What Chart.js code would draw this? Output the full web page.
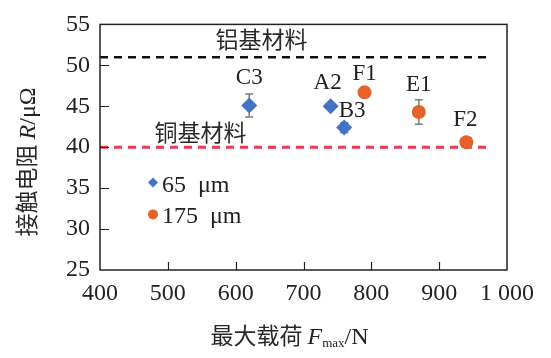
<!DOCTYPE html>
<html>
<head>
<meta charset="utf-8">
<script src="https://cdn.jsdelivr.net/npm/chart.js@4.4.1/dist/chart.umd.min.js"></script>
<style>
  html, body { margin: 0; padding: 0; background: #ffffff; }
  #c { display: block; }
</style>
</head>
<body>
<canvas id="c" width="551" height="358"></canvas>
<script>
// ---- data ----
const xTicks = [400, 500, 600, 700, 800, 900, 1000];
const yTicks = [25, 30, 35, 40, 45, 50, 55];

const names65 = ['C3', 'A2', 'B3'];
const force65 = [620, 740, 760];
const resist65 = [45.1, 45.0, 42.4];
const err65 = [1.4, 0, 0.6];

const names175 = ['F1', 'E1', 'F2'];
const force175 = [790, 870, 940];
const resist175 = [46.7, 44.3, 40.6];
const err175 = [0, 1.5, 0];

const alLevel = 51;   // 铝基材料
const cuLevel = 40;   // 铜基材料
const refLineX = [400, 975];

const legendNames = ['65  μm', '175  μm'];
const refNames = ['铝基材料', '铜基材料'];

// ---- styles ----
const BLUE = '#4472c4';
const ORANGE = '#e5622b';
const RED = '#e43a52';
const INK = '#222222';
const SERIF = '"Liberation Serif", "DejaVu Serif", serif';
const CJK = '"Noto Sans CJK SC", sans-serif';

const pts65 = force65.map((f, i) => ({ x: f, y: resist65[i] }));
const pts175 = force175.map((f, i) => ({ x: f, y: resist175[i] }));

// label offsets (pixels) relative to marker
const labelOffsets = {
  C3: [0, -27], A2: [-3, -23], B3: [8, -17],
  F1: [0, -18], E1: [0, -27], F2: [-1, -22]
};

const errorBars = {
  id: 'errorBars',
  beforeDatasetsDraw(chart) {
    const { ctx, scales: { x, y } } = chart;
    ctx.save();
    ctx.strokeStyle = '#7a7a7a';
    ctx.lineWidth = 1.5;
    const draw = (fs, rs, es) => fs.forEach((f, i) => {
      if (!es[i]) return;
      const px = x.getPixelForValue(f);
      const y1 = y.getPixelForValue(rs[i] + es[i]);
      const y2 = y.getPixelForValue(rs[i] - es[i]);
      ctx.beginPath();
      ctx.moveTo(px, y1); ctx.lineTo(px, y2);
      ctx.moveTo(px - 4, y1); ctx.lineTo(px + 4, y1);
      ctx.moveTo(px - 4, y2); ctx.lineTo(px + 4, y2);
      ctx.stroke();
    });
    draw(force65, resist65, err65);
    draw(force175, resist175, err175);
    ctx.restore();
  }
};

const decor = {
  id: 'decor',
  afterDraw(chart) {
    const { ctx, chartArea: a, scales: { x, y } } = chart;
    ctx.save();
    // frame
    ctx.strokeStyle = INK;
    ctx.lineWidth = 1.5;
    ctx.strokeRect(a.left, a.top, a.right - a.left, a.bottom - a.top);
    // inward ticks
    ctx.beginPath();
    xTicks.forEach(v => {
      if (v <= x.min || v >= x.max) return;
      const px = Math.round(x.getPixelForValue(v)) + 0.5;
      ctx.moveTo(px, a.bottom); ctx.lineTo(px, a.bottom - 8);
    });
    yTicks.forEach(v => {
      if (v <= y.min || v >= y.max) return;
      const py = Math.round(y.getPixelForValue(v)) + 0.5;
      ctx.moveTo(a.left, py); ctx.lineTo(a.left + 9, py);
    });
    ctx.lineWidth = 1.2;
    ctx.stroke();

    // point labels
    ctx.fillStyle = INK;
    ctx.font = '23px ' + SERIF;
    ctx.textAlign = 'center';
    ctx.textBaseline = 'middle';
    const lab = (names, fs, rs) => names.forEach((n, i) => {
      const o = labelOffsets[n];
      const px = x.getPixelForValue(fs[i]);
      const py = y.getPixelForValue(rs[i]);
      ctx.fillText(n, px + o[0], py + o[1]);
    });
    lab(names65, force65, resist65);
    lab(names175, force175, resist175);

    // reference labels
    ctx.fillStyle = '#2a2a2a';
    ctx.font = '23px ' + CJK;
    ctx.textBaseline = 'middle';
    ctx.fillText(refNames[0], x.getPixelForValue(638), y.getPixelForValue(alLevel) - 18);
    ctx.fillText(refNames[1], x.getPixelForValue(548), y.getPixelForValue(cuLevel) - 15);

    // legend (inside plot)
    const lx = a.left + 53;
    const ly1 = a.top + 158, ly2 = a.top + 190;
    ctx.fillStyle = BLUE;
    ctx.beginPath();
    ctx.moveTo(lx, ly1 - 5); ctx.lineTo(lx + 5, ly1); ctx.lineTo(lx, ly1 + 5); ctx.lineTo(lx - 5, ly1);
    ctx.closePath(); ctx.fill();
    ctx.fillStyle = ORANGE;
    ctx.beginPath(); ctx.arc(lx, ly2, 5, 0, Math.PI * 2); ctx.fill();
    ctx.fillStyle = INK;
    ctx.font = '24px ' + SERIF;
    ctx.textAlign = 'left';
    ctx.textBaseline = 'alphabetic';
    ctx.fillText(legendNames[0], lx + 9, ly1 + 10);
    ctx.fillText(legendNames[1], lx + 9, ly2 + 9);

    // x axis title: 最大载荷 F_max/N
    const parts = [
      { t: '最大载荷 ', f: '23px ' + CJK, dy: 0, c: '#2a2a2a' },
      { t: 'F', f: 'italic 24px ' + SERIF, dy: 0, c: INK },
      { t: 'max', f: '13px ' + SERIF, dy: 3, c: INK },
      { t: '/N', f: '24px ' + SERIF, dy: 0, c: INK }
    ];
    let tw = 0;
    parts.forEach(p => { ctx.font = p.f; p.w = ctx.measureText(p.t).width; tw += p.w; });
    let sx = (a.left + a.right) / 2 - 14 - tw / 2;
    const by = 344;
    parts.forEach(p => { ctx.font = p.f; ctx.fillStyle = p.c; ctx.fillText(p.t, sx, by + p.dy); sx += p.w; });

    // y axis title: 接触电阻 R/μΩ
    const yparts = [
      { t: '接触电阻 ', f: '23px ' + CJK, c: '#2a2a2a' },
      { t: 'R', f: 'italic 24px ' + SERIF, c: INK },
      { t: '/μΩ', f: '24px ' + SERIF, c: INK }
    ];
    let tw2 = 0;
    yparts.forEach(p => { ctx.font = p.f; p.w = ctx.measureText(p.t).width; tw2 += p.w; });
    ctx.translate(35, 162);
    ctx.rotate(-Math.PI / 2);
    let s2 = -tw2 / 2;
    yparts.forEach(p => { ctx.font = p.f; ctx.fillStyle = p.c; ctx.fillText(p.t, s2, 0); s2 += p.w; });
    ctx.restore();
  }
};

const whiteBg = {
  id: 'whiteBg',
  beforeDraw(chart) {
    const { ctx, width, height } = chart;
    ctx.save(); ctx.fillStyle = '#fff'; ctx.fillRect(0, 0, width, height); ctx.restore();
  }
};

new Chart(document.getElementById('c'), {
  type: 'scatter',
  data: {
    datasets: [
      { label: legendNames[0], data: pts65, pointStyle: 'rectRot', pointRadius: 8,
        backgroundColor: BLUE, borderColor: BLUE, borderWidth: 0, showLine: false, order: 0 },
      { label: legendNames[1], data: pts175, pointStyle: 'circle', pointRadius: 7,
        backgroundColor: ORANGE, borderColor: ORANGE, borderWidth: 0, showLine: false, order: 0 },
      { type: 'line', label: refNames[0], data: refLineX.map(v => ({ x: v, y: alLevel })),
        borderColor: '#111', borderWidth: 2.5, borderDash: [8, 6], pointRadius: 0, fill: false, order: 5 },
      { type: 'line', label: refNames[1], data: refLineX.map(v => ({ x: v, y: cuLevel })),
        borderColor: RED, borderWidth: 3, borderDash: [8, 6], pointRadius: 0, fill: false, order: 5 }
    ]
  },
  options: {
    responsive: false,
    animation: false,
    layout: { padding: { left: 0, right: 44, top: 20, bottom: 0 } },
    plugins: { legend: { display: false }, tooltip: { enabled: false } },
    scales: {
      x: {
        type: 'linear', min: 400, max: 1000,
        afterBuildTicks: s => { s.ticks = xTicks.map(v => ({ value: v })); },
        afterFit: s => { s.height = 88; },
        grid: { display: false, drawTicks: false },
        border: { display: false },
        ticks: { padding: 9, color: INK, font: { family: SERIF, size: 24 },
          maxRotation: 0, autoSkip: false,
          callback: v => v === 1000 ? '1 000' : String(v) }
      },
      y: {
        type: 'linear', min: 25, max: 55,
        afterBuildTicks: s => { s.ticks = yTicks.map(v => ({ value: v })); },
        afterFit: s => { s.width = 100; },
        grid: { display: false, drawTicks: false },
        border: { display: false },
        ticks: { padding: 10, color: INK, font: { family: SERIF, size: 24 }, autoSkip: false }
      }
    }
  },
  plugins: [whiteBg, errorBars, decor]
});
</script>
</body>
</html>
